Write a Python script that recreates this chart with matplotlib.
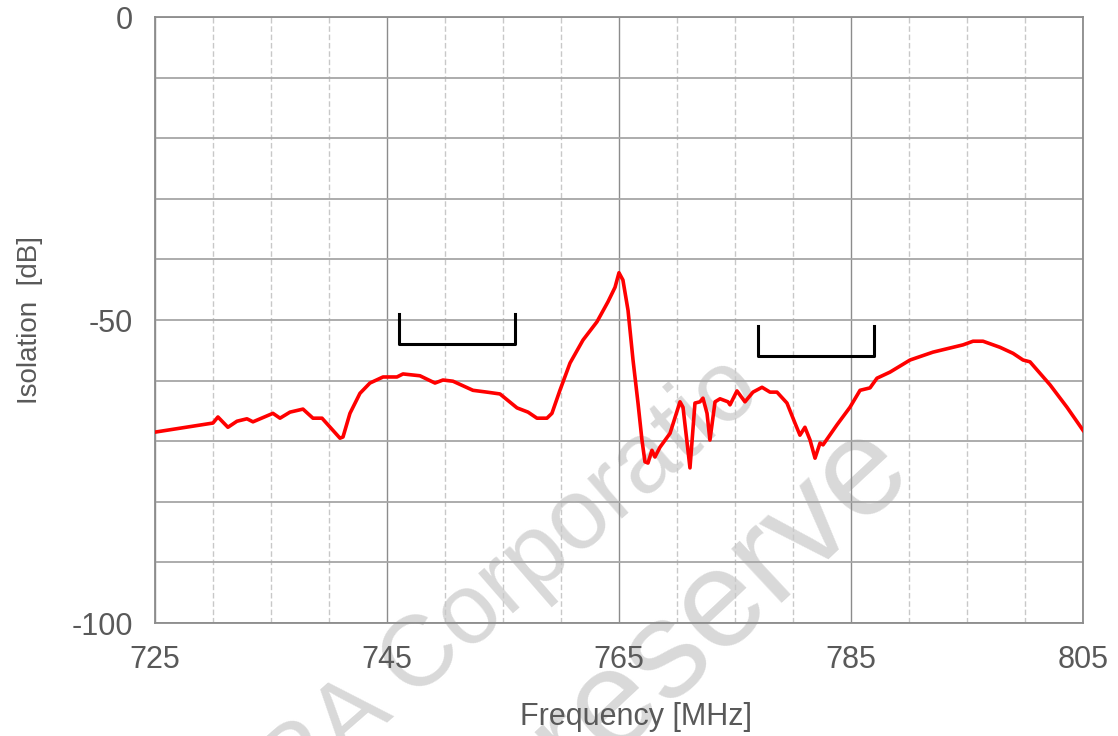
import numpy as np
import matplotlib.pyplot as plt
from matplotlib.ticker import MultipleLocator

plt.rcParams['font.family'] = ['Liberation Sans', 'DejaVu Sans']
plt.rcParams['axes.unicode_minus'] = False

# isolation curve
freq = [725.00, 730.00, 730.43, 731.29, 732.07, 732.93, 733.45, 735.17, 735.78, 736.64,
        737.76, 738.62, 739.40, 740.34, 740.95, 741.21, 741.81, 742.67, 743.53, 744.66,
        745.86, 746.38, 747.84, 749.14, 749.83, 750.69, 752.41, 753.62, 754.74, 756.21,
        757.16, 757.93, 758.79, 759.22, 759.91, 760.78, 761.90, 763.10, 764.05, 764.66,
        765.00, 765.34, 765.78, 766.21, 766.64, 766.98, 767.24, 767.50, 767.84, 768.10,
        768.53, 769.40, 770.26, 770.52, 771.12, 771.55, 771.98, 772.24, 772.59, 772.84,
        773.28, 773.71, 774.40, 774.57, 775.17, 775.86, 776.55, 777.33, 778.02, 778.62,
        779.48, 780.17, 780.60, 781.03, 781.47, 781.90, 782.33, 782.59, 783.79, 784.91,
        785.78, 786.64, 787.24, 788.36, 790.09, 792.07, 794.66, 795.52, 796.38, 797.84,
        798.97, 799.83, 800.43, 802.16, 803.62, 805.00]
isolation = [-68.5, -67.0, -66.0, -67.7, -66.7, -66.3, -66.8, -65.4, -66.2, -65.2,
             -64.7, -66.2, -66.2, -68.2, -69.5, -69.3, -65.4, -62.1, -60.4, -59.4,
             -59.4, -58.9, -59.2, -60.4, -59.9, -60.1, -61.6, -61.9, -62.2, -64.5,
             -65.2, -66.2, -66.2, -65.4, -61.6, -57.1, -53.3, -50.3, -47.0, -44.6,
             -42.2, -43.4, -48.4, -56.6, -63.7, -69.8, -73.4, -73.6, -71.5, -72.6,
             -71.0, -68.7, -63.5, -64.4, -74.4, -63.7, -63.5, -62.9, -65.4, -69.8,
             -63.5, -63.0, -63.5, -64.0, -61.7, -63.5, -61.9, -61.1, -61.9, -61.9,
             -63.7, -67.0, -69.0, -67.7, -69.8, -72.8, -70.3, -70.6, -67.3, -64.4,
             -61.6, -61.2, -59.6, -58.6, -56.6, -55.3, -54.1, -53.5, -53.5, -54.5,
             -55.5, -56.6, -56.9, -60.7, -64.4, -68.2]

# band markers: (start, stop, bottom level)
bands = [(746, 756, -54), (777, 787, -56)]
bracket_height = 5

fig = plt.figure(figsize=(11.18, 7.36), dpi=100)
ax = fig.add_axes([0.1386, 0.1535, 0.8301, 0.8234])

ax.set_xlim(725, 805)
ax.set_ylim(-100, 0)

# grid
ax.xaxis.set_minor_locator(MultipleLocator(5))
ax.yaxis.set_minor_locator(MultipleLocator(10))
ax.set_xticks([725, 745, 765, 785, 805])
ax.set_yticks([0, -50, -100])
ax.grid(which='major', axis='x', color='#8c8c8c', linewidth=1.0)
ax.grid(which='minor', axis='x', color='#c8c8c8', linewidth=1.0, linestyle=(0, (4, 2)))
ax.grid(which='both', axis='y', color='#a6a6a6', linewidth=1.3)
ax.set_axisbelow(True)

for s in ax.spines.values():
    s.set_color('#8c8c8c')
    s.set_linewidth(1.3)

ax.tick_params(which='both', length=0, labelsize=22, labelcolor='#595959')
ax.tick_params(axis='x', pad=16)
ax.tick_params(axis='y', pad=16)

ax.plot(freq, isolation, color='#ff0000', linewidth=2.6, zorder=3)

for f0, f1, lvl in bands:
    ax.plot([f0, f0, f1, f1], [lvl + bracket_height, lvl, lvl, lvl + bracket_height],
            color='black', linewidth=2.2, zorder=4)

ax.set_xlabel('Frequency [MHz]', fontsize=22, color='#595959')
ax.xaxis.set_label_coords(0.518, -0.13)
ax.set_ylabel('Isolation  [dB]', fontsize=20, color='#595959', labelpad=20)

# faint watermark behind grid and labels, partly running off the page
ax.text(0.684, 0.463, 'RA Corporatio', fontsize=72, color='#d9d9d9', rotation=41,
        ha='right', va='baseline', rotation_mode='anchor',
        transform=fig.transFigure, clip_on=False, zorder=0.3)
ax.text(0.818, 0.36, 'reserve', fontsize=100, color='#d9d9d9', rotation=43,
        ha='right', va='baseline', rotation_mode='anchor',
        transform=fig.transFigure, clip_on=False, zorder=0.3)

fig.savefig('out.png', dpi=100)
